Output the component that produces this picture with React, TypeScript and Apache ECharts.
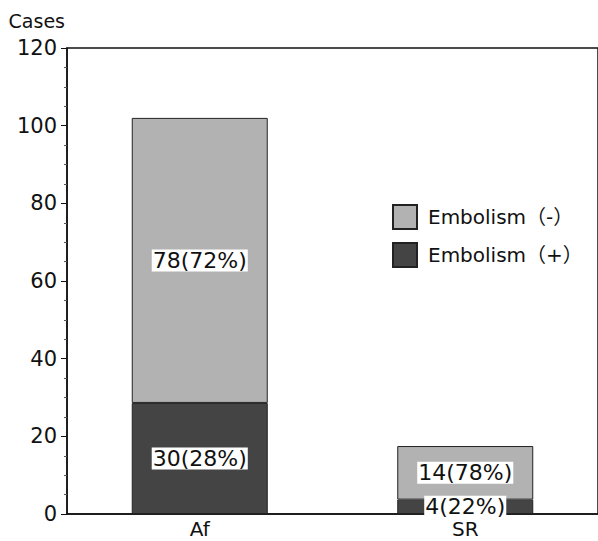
import React, { useEffect, useRef } from "react";
import * as echarts from "echarts";

const categories = ["Af", "SR"];
const embolismPos = [28.6, 3.7];
const embolismNeg = [73.4, 13.8];
const posLabels = ["30(28%)", "4(22%)"];
const negLabels = ["78(72%)", "14(78%)"];
const yTicks = { min: 0, max: 120, interval: 20 };
const seriesNames = ["Embolism（-）", "Embolism（+）"];

const FONT = "'DejaVu Sans', 'Noto Sans CJK JP', sans-serif";

export default function App() {
  const ref = useRef<HTMLDivElement>(null);
  useEffect(() => {
    const chart = echarts.init(ref.current!, null, { renderer: "svg" });
    const labelStyle = {
      show: true,
      position: "inside",
      color: "#111",
      fontSize: 22,
      fontFamily: FONT,
      backgroundColor: "#fff",
      padding: [0, 1, 0, 1],
    };
    chart.setOption({
      animation: false,
      backgroundColor: "#fff",
      grid: {
        left: 67,
        right: -7,
        top: 48,
        bottom: 27,
        show: true,
        borderColor: "#111",
        borderWidth: 1.5,
      },
      legend: {
        data: seriesNames,
        orient: "vertical",
        left: 392,
        top: 204,
        padding: 0,
        itemWidth: 24,
        itemHeight: 24,
        itemGap: 12,
        icon: "rect",
        textStyle: { fontSize: 20, fontFamily: FONT, color: "#111", padding: [0, 0, 0, 6], lineHeight: 24 },
      },
      xAxis: {
        type: "category",
        data: categories,
        axisLine: { lineStyle: { color: "#111", width: 1.5 } },
        axisTick: { show: false },
        axisLabel: { fontSize: 20, fontFamily: FONT, color: "#111", margin: 4, lineHeight: 22 },
      },
      yAxis: {
        type: "value",
        min: yTicks.min,
        max: yTicks.max,
        interval: yTicks.interval,
        name: "Cases",
        nameLocation: "end",
        nameGap: 18,
        nameTextStyle: { fontSize: 19, fontFamily: FONT, color: "#111", align: "right", padding: [0, 2, 0, 0] },
        axisLine: { show: true, lineStyle: { color: "#111", width: 1.5 } },
        axisTick: { show: true, length: 6, lineStyle: { color: "#111" } },
        minorTick: { show: true, splitNumber: 4, length: 3, lineStyle: { color: "#555" } },
        splitLine: { show: false },
        axisLabel: { fontSize: 21, fontFamily: FONT, color: "#111", margin: 10 },
      },
      series: [
        {
          name: seriesNames[1],
          type: "bar",
          stack: "total",
          barWidth: 136,
          data: embolismPos,
          itemStyle: { color: "#444444", borderColor: "#222", borderWidth: 1 },
          label: { ...labelStyle, formatter: (p: any) => posLabels[p.dataIndex] },
        },
        {
          name: seriesNames[0],
          type: "bar",
          stack: "total",
          barWidth: 136,
          data: embolismNeg,
          itemStyle: { color: "#b2b2b2", borderColor: "#222", borderWidth: 1 },
          label: { ...labelStyle, formatter: (p: any) => negLabels[p.dataIndex] },
        },
      ],
    });
    return () => chart.dispose();
  }, []);
  return (
    <div
      ref={ref}
      style={{ position: "fixed", left: 0, top: 0, width: 598, height: 541, background: "#fff" }}
    />
  );
}
